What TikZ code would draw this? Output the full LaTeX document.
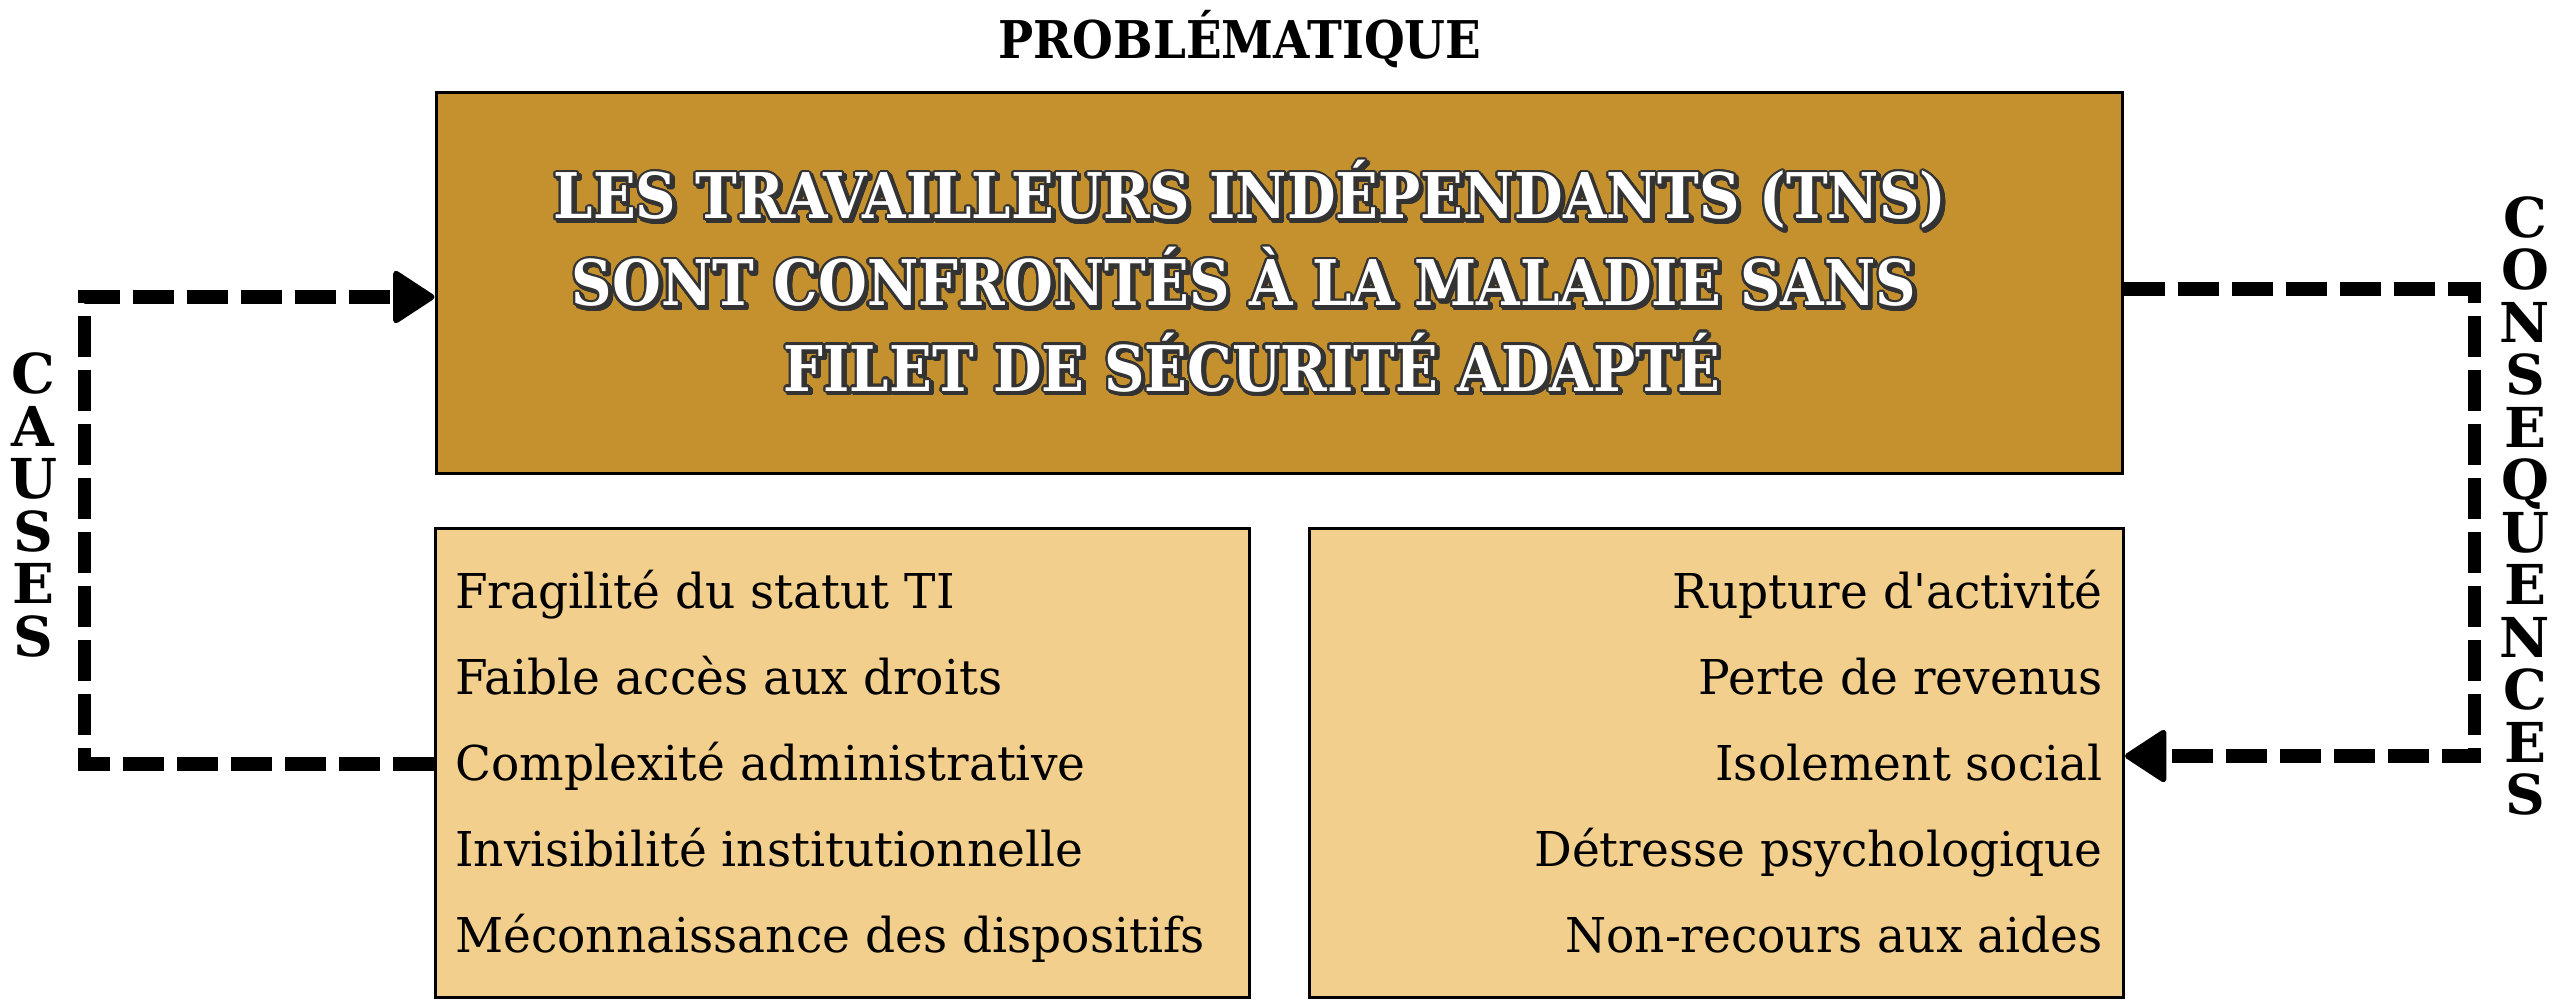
\documentclass[tikz,border=0pt]{standalone}
\usepackage{fontspec}
\usepackage[copies]{contour}
\usetikzlibrary{arrows.meta}
\setmainfont{DejaVu Serif}
\newfontfamily\headfont[FakeStretch=0.89]{DejaVu Serif}
\newfontfamily\titlefont[FakeStretch=0.90]{DejaVu Serif}
\newfontfamily\sidefont{DejaVu Serif}
\newfontfamily\listfont[FakeStretch=0.98]{DejaVu Serif}
\definecolor{gold}{HTML}{C4912E}
\definecolor{sand}{HTML}{F2CF8D}
\definecolor{ink}{HTML}{333333}
\contourlength{2.2pt}
\contournumber{24}
\newcommand\outlined[1]{\makebox[0pt][l]{\hspace*{2.5pt}\raisebox{-2.5pt}{\textcolor{ink}{\contour{ink}{#1}}}}\textcolor{white}{\contour{ink}{#1}}}
\begin{document}
\begin{tikzpicture}[x=1pt,y=-1pt]
\useasboundingbox (0,0) rectangle (2560,1000);
\tikzset{
 bigbox/.style={draw=black, line width=3pt, fill=gold, minimum width=1686pt, minimum height=380pt, inner sep=0pt},
 listbox/.style={draw=black, line width=3pt, fill=sand, minimum width=814pt, minimum height=469pt, inner sep=0pt},
 headline/.style={anchor=base, inner sep=0pt, font=\headfont\bfseries\fontsize{63}{63}\selectfont},
 item/.style={inner sep=0pt, font=\listfont\fontsize{48}{48}\selectfont},
 sideword/.style={align=center, inner sep=0pt, font=\sidefont\bfseries\fontsize{55}{52.5}\selectfont},
 conn/.style={line width=13.5pt, dash pattern=on 41pt off 13pt},
 arrowed/.style={-{Triangle[length=44pt,width=56pt,line width=6pt,round]}}
}
\node[bigbox] (prob) at (1279,283) {};
\node[listbox] (cb) at (842,762.5) {};
\node[listbox] (qb) at (1716.5,762.5) {};

\node[anchor=base, inner sep=0pt, font=\titlefont\bfseries\fontsize{52}{52}\selectfont] (title) at (1240,59) {PROBLÉMATIQUE};

\node[headline] (h1) at (1250,219) {\outlined{LES TRAVAILLEURS INDÉPENDANTS (TNS)}};
\node[headline] (h2) at (1244,306) {\outlined{SONT CONFRONTÉS À LA MALADIE SANS}};
\node[headline] (h3) at (1252,391) {\outlined{FILET DE SÉCURITÉ ADAPTÉ}};

\node[item, anchor=base west] (c1) at (455,608) {Fragilité du statut TI};
\node[item, anchor=base west] (c2) at (455,694) {Faible accès aux droits};
\node[item, anchor=base west] (c3) at (455,780) {Complexité administrative};
\node[item, anchor=base west] (c4) at (455,866) {Invisibilité institutionnelle};
\node[item, anchor=base west] (c5) at (455,952) {Méconnaissance des dispositifs};

\node[item, anchor=base east] (q1) at (2103,608) {Rupture d'activité};
\node[item, anchor=base east] (q2) at (2103,694) {Perte de revenus};
\node[item, anchor=base east] (q3) at (2103,780) {Isolement social};
\node[item, anchor=base east] (q4) at (2103,866) {Détresse psychologique};
\node[item, anchor=base east] (q5) at (2103,952) {Non-recours aux aides};

\node[sideword] (causes) at (33,505) {C\\A\\U\\S\\E\\S};
\node[sideword] (conseq) at (2525,506) {C\\O\\N\\S\\E\\Q\\U\\E\\N\\C\\E\\S};

\draw[conn, arrowed] ([yshift=-1.5pt]cb.west) -- ++(-349,0) |- ([yshift=-14pt]prob.west);
\draw[conn, arrowed] ([yshift=-6pt]prob.east) -- ++(351,0) |- ([yshift=6.5pt]qb.east);
\end{tikzpicture}
\end{document}
